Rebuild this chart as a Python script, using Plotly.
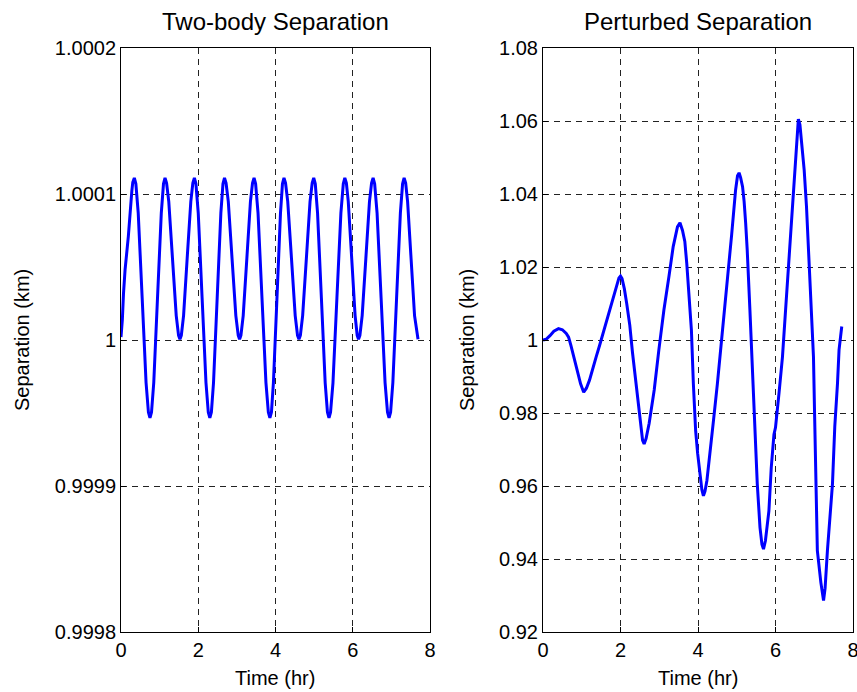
import plotly.graph_objects as go

# ---------------- data ----------------
left_time = [
    0.000, 0.035, 0.065, 0.105, 0.190, 0.235, 0.280, 0.305, 0.345, 0.385,
    0.446, 0.548, 0.649, 0.710, 0.750, 0.790, 0.848, 0.945, 1.043, 1.100,
    1.140, 1.180, 1.237, 1.333, 1.430, 1.490, 1.526, 1.562, 1.620, 1.713,
    1.807, 1.860, 1.900, 1.940, 2.000, 2.100, 2.200, 2.260, 2.300, 2.340,
    2.395, 2.490, 2.585, 2.640, 2.680, 2.720, 2.778, 2.875, 2.973, 3.035,
    3.070, 3.105, 3.164, 3.258, 3.351, 3.405, 3.445, 3.485, 3.548, 3.650,
    3.753, 3.815, 3.855, 3.895, 3.946, 4.038, 4.129, 4.180, 4.220, 4.260,
    4.317, 4.414, 4.510, 4.570, 4.607, 4.644, 4.703, 4.799, 4.894, 4.950,
    4.990, 5.030, 5.089, 5.188, 5.286, 5.345, 5.385, 5.425, 5.488, 5.590,
    5.693, 5.755, 5.795, 5.835, 5.884, 5.973, 6.061, 6.115, 6.150, 6.185,
    6.244, 6.339, 6.433, 6.487, 6.527, 6.567, 6.630, 6.734, 6.837, 6.900,
    6.940, 6.980, 7.038, 7.135, 7.233, 7.290, 7.330, 7.370, 7.420, 7.510,
    7.600, 7.690,
]
left_sep = [
    1.0000020, 1.0000140, 1.0000320, 1.0000480, 1.0000710, 1.0000890, 1.0001020, 1.0001080, 1.0001110, 1.0001070,
    1.0000869, 1.0000288, 0.9999707, 0.9999505, 0.9999466, 0.9999505, 0.9999707, 1.0000288, 1.0000869, 1.0001070,
    1.0001110, 1.0001075, 1.0000948, 1.0000558, 1.0000167, 1.0000032, 1.0000005, 1.0000032, 1.0000167, 1.0000558,
    1.0000948, 1.0001075, 1.0001110, 1.0001070, 1.0000869, 1.0000288, 0.9999707, 0.9999505, 0.9999466, 0.9999505,
    0.9999707, 1.0000288, 1.0000869, 1.0001070, 1.0001110, 1.0001075, 1.0000948, 1.0000558, 1.0000167, 1.0000032,
    1.0000005, 1.0000032, 1.0000167, 1.0000558, 1.0000948, 1.0001075, 1.0001110, 1.0001070, 1.0000869, 1.0000288,
    0.9999707, 0.9999505, 0.9999466, 0.9999505, 0.9999707, 1.0000288, 1.0000869, 1.0001070, 1.0001110, 1.0001075,
    1.0000948, 1.0000558, 1.0000167, 1.0000032, 1.0000005, 1.0000032, 1.0000167, 1.0000558, 1.0000948, 1.0001075,
    1.0001110, 1.0001070, 1.0000869, 1.0000288, 0.9999707, 0.9999505, 0.9999466, 0.9999505, 0.9999707, 1.0000288,
    1.0000869, 1.0001070, 1.0001110, 1.0001075, 1.0000948, 1.0000558, 1.0000167, 1.0000032, 1.0000005, 1.0000032,
    1.0000167, 1.0000558, 1.0000948, 1.0001075, 1.0001110, 1.0001070, 1.0000869, 1.0000288, 0.9999707, 0.9999505,
    0.9999466, 0.9999505, 0.9999707, 1.0000288, 1.0000869, 1.0001070, 1.0001110, 1.0001075, 1.0000948, 1.0000558,
    1.0000167, 1.0000005,
]

right_time = [
    0.00, 0.08, 0.18, 0.28, 0.40, 0.50, 0.60, 0.66, 0.72, 0.80,
    0.89, 0.97, 1.05, 1.12, 1.20, 1.29, 1.37, 1.46, 1.55, 1.64,
    1.72, 1.81, 1.89, 1.96, 2.00, 2.04, 2.10, 2.16, 2.24, 2.31,
    2.38, 2.45, 2.52, 2.57, 2.61, 2.66, 2.74, 2.87, 2.99, 3.12,
    3.25, 3.36, 3.47, 3.535, 3.60, 3.66, 3.71, 3.77, 3.83, 3.88,
    3.94, 3.99, 4.05, 4.10, 4.14, 4.18, 4.23, 4.30, 4.40, 4.50,
    4.60, 4.70, 4.78, 4.87, 4.97, 5.02, 5.06, 5.10, 5.15, 5.19,
    5.23, 5.27, 5.34, 5.40, 5.49, 5.53, 5.60, 5.65, 5.69, 5.74,
    5.83, 5.89, 5.96, 6.00, 6.09, 6.18, 6.26, 6.32, 6.39, 6.45,
    6.52, 6.56, 6.59, 6.63, 6.68, 6.74, 6.80, 6.86, 6.91, 6.98,
    7.01, 7.04, 7.08, 7.17, 7.21, 7.24, 7.28, 7.34, 7.47, 7.53,
    7.60, 7.64, 7.68, 7.71,
]
right_sep = [
    1.0000, 1.0002, 1.0012, 1.0024, 1.0031, 1.0028, 1.0018, 1.0008, 0.9985, 0.9950,
    0.9916, 0.9880, 0.9857, 0.9868, 0.9890, 0.9920, 0.9953, 0.9985, 1.0017, 1.0050,
    1.0082, 1.0115, 1.0144, 1.0170, 1.0175, 1.0168, 1.0140, 1.0100, 1.0040, 0.9965,
    0.9900, 0.9835, 0.9770, 0.9725, 0.9715, 0.9730, 0.9772, 0.9863, 0.9973, 1.0082,
    1.0174, 1.0256, 1.0310, 1.0321, 1.0300, 1.0270, 1.0210, 1.0128, 1.0027, 0.9881,
    0.9750, 0.9690, 0.9632, 0.9590, 0.9573, 0.9585, 0.9615, 0.9690, 0.9780, 0.9880,
    0.9990, 1.0090, 1.0170, 1.0290, 1.0411, 1.0450, 1.0458, 1.0445, 1.0420, 1.0380,
    1.0320, 1.0247, 1.0082, 0.9927, 0.9735, 0.9605, 0.9486, 0.9440, 0.9427, 0.9450,
    0.9532, 0.9650, 0.9741, 0.9760, 0.9854, 0.9954, 1.0082, 1.0174, 1.0274, 1.0390,
    1.0475, 1.0560, 1.0605, 1.0590, 1.0530, 1.0466, 1.0365, 1.0228, 1.0100, 0.9954,
    0.9790, 0.9650, 0.9423, 0.9336, 0.9300, 0.9286, 0.9320, 0.9423, 0.9605, 0.9763,
    0.9881, 0.9973, 1.0010, 1.0037,
]

x_ticks = [0, 2, 4, 6, 8]
left_yticks = [0.9998, 0.9999, 1.0, 1.0001, 1.0002]
left_yticklabels = ["0.9998", "0.9999", "1", "1.0001", "1.0002"]
right_yticks = [0.92, 0.94, 0.96, 0.98, 1.0, 1.02, 1.04, 1.06, 1.08]
right_yticklabels = ["0.92", "0.94", "0.96", "0.98", "1", "1.02", "1.04", "1.06", "1.08"]

titles = ["Two-body Separation", "Perturbed Separation"]
x_label = "Time (hr)"
y_label = "Separation (km)"

# ---------------- figure ----------------
W, H = 857, 692
FONT = "Liberation Sans, Arial, Helvetica, sans-serif"

fig = go.Figure()
line_style = dict(color="#0000FF", width=3)
fig.add_trace(go.Scatter(x=left_time, y=left_sep, mode="lines", line=line_style,
                         xaxis="x", yaxis="y", showlegend=False, hoverinfo="skip"))
fig.add_trace(go.Scatter(x=right_time, y=right_sep, mode="lines", line=line_style,
                         xaxis="x2", yaxis="y2", showlegend=False, hoverinfo="skip"))

ydom = [1 - 632 / H, 1 - 48 / H]
ldom = [121 / W, 430 / W]
rdom = [543 / W, 853 / W]

axis_common = dict(
    showline=True, linecolor="black", linewidth=1, mirror=True,
    ticks="inside", ticklen=5, tickcolor="black", tickwidth=1,
    showgrid=True, gridcolor="#222222", gridwidth=1, griddash="6px,5px",
    zeroline=False, automargin=False, ticklabeloverflow="allow",
    tickfont=dict(family=FONT, size=20, color="black"),
)

fig.update_layout(
    width=W, height=H,
    margin=dict(l=0, r=0, t=0, b=0),
    paper_bgcolor="white", plot_bgcolor="white",
    font=dict(family=FONT, color="black"),
    xaxis=dict(domain=ldom, range=[0, 8], tickvals=x_ticks, anchor="y", **axis_common),
    yaxis=dict(domain=ydom, range=[0.9998, 1.0002], tickvals=left_yticks,
               ticktext=left_yticklabels, anchor="x", **axis_common),
    xaxis2=dict(domain=rdom, range=[0, 8], tickvals=x_ticks, anchor="y2", **axis_common),
    yaxis2=dict(domain=ydom, range=[0.92, 1.08], tickvals=right_yticks,
                ticktext=right_yticklabels, anchor="x2", **axis_common),
)

anns = []
for cx, ttl in zip([(ldom[0] + ldom[1]) / 2, (rdom[0] + rdom[1]) / 2], titles):
    anns.append(dict(text=ttl, x=cx, y=1 - 22 / H, xref="paper", yref="paper",
                     xanchor="center", yanchor="middle", showarrow=False,
                     font=dict(family=FONT, size=24, color="black")))
    anns.append(dict(text=x_label, x=cx, y=1 - 678 / H, xref="paper", yref="paper",
                     xanchor="center", yanchor="middle", showarrow=False,
                     font=dict(family=FONT, size=20, color="black")))
for lx in [22 / W, 467 / W]:
    anns.append(dict(text=y_label, x=lx, y=1 - 340 / H, xref="paper", yref="paper",
                     xanchor="center", yanchor="middle", textangle=-90, showarrow=False,
                     font=dict(family=FONT, size=20, color="black")))
fig.update_layout(annotations=anns)

fig.write_html(
    "out.html",
    config={"displayModeBar": False},
    post_script="document.body.style.margin='0px';document.body.style.overflow='hidden';",
)
